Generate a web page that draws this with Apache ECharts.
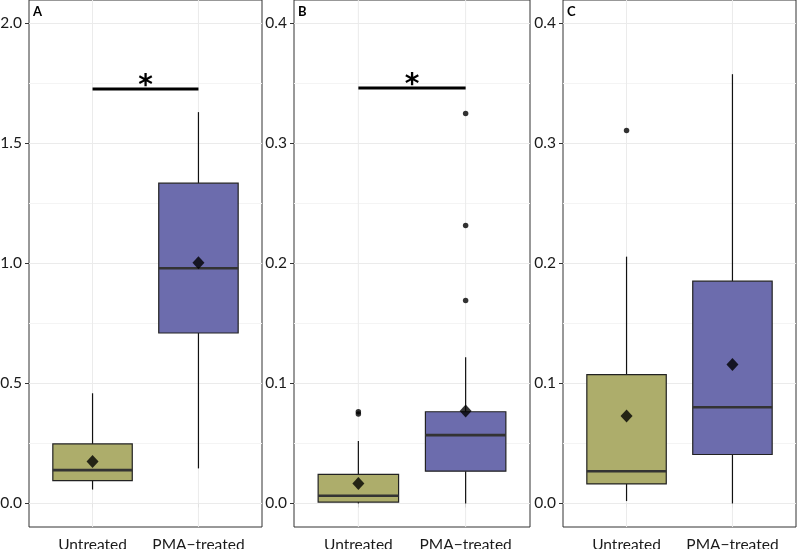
<!DOCTYPE html>
<html>
<head>
<meta charset="utf-8">
<script src="https://cdn.jsdelivr.net/npm/echarts@6/dist/echarts.min.js"></script>
<style>html,body{margin:0;padding:0;background:#fff}#c{width:797px;height:549px}</style>
</head>
<body>
<div id="c"></div>
<script>
// ---- data ----
const categories = ['Untreated', 'PMA−treated'];
const panelLabels = ['A', 'B', 'C'];
const boxColors = ['#ADAD6B', '#6C6CAD'];

// [min whisker, Q1, median, Q3, max whisker]
const boxA = [[0.058, 0.095, 0.139, 0.248, 0.459], [0.146, 0.710, 0.980, 1.334, 1.630]];
const meanA = [0.175, 1.003];
const outA = [];
const sigA = [1, 2, 1.726];

const boxB = [[0.000, 0.0012, 0.0064, 0.0242, 0.052], [0.000, 0.0269, 0.0569, 0.0764, 0.1219]];
const meanB = [0.0166, 0.077];
const outB = [[1, 0.0745], [1, 0.0765], [2, 0.1691], [2, 0.2316], [2, 0.3249]];
const sigB = [1, 2, 0.346];

const boxC = [[0.002, 0.0163, 0.0268, 0.1073, 0.2056], [0.000, 0.0408, 0.0802, 0.1852, 0.3576]];
const meanC = [0.0729, 0.1158];
const outC = [[1, 0.3106]];

const yRangeA = [-0.098, 2.097];
const yRangeBC = [-0.0196, 0.4194];
const yTicksA = [0, 0.5, 1.0, 1.5, 2.0];
const yTicksBC = [0, 0.1, 0.2, 0.3, 0.4];

// ---- layout ----
const panels = [
  {box: boxA, mean: meanA, out: outA, sig: sigA, yr: yRangeA, yt: yTicksA, left: 29, width: 233},
  {box: boxB, mean: meanB, out: outB, sig: sigB, yr: yRangeBC, yt: yTicksBC, left: 294, width: 236},
  {box: boxC, mean: meanC, out: outC, sig: null, yr: yRangeBC, yt: yTicksBC, left: 563, width: 233}
];
const FONT = 'Lato, "Open Sans", sans-serif';
const BOX_W = 0.75;

const grid = [], xAxis = [], yAxis = [], series = [], title = [];
panels.forEach((p, i) => {
  grid.push({left: p.left, width: p.width, top: 0, height: 527, show: true, containLabel: false,
    outerBoundsMode: 'none',
    borderColor: '#333', borderWidth: 1, backgroundColor: 'transparent'});
  xAxis.push({type: 'value', gridIndex: i, min: 0.4, max: 2.6,
    axisLine: {show: false}, splitLine: {show: false},
    axisTick: {show: true, customValues: [1, 2], length: 4, lineStyle: {color: '#333'}},
    axisLabel: {customValues: [1, 2], formatter: v => categories[Math.round(v) - 1] || '',
      fontSize: 15.5, color: '#1a1a1a', fontFamily: FONT, margin: 10, hideOverlap: false}});
  yAxis.push({type: 'value', gridIndex: i, min: p.yr[0], max: p.yr[1],
    axisLine: {show: false},
    axisTick: {show: true, customValues: p.yt, length: 4, lineStyle: {color: '#333'}},
    axisLabel: {customValues: p.yt, formatter: v => v.toFixed(1), fontSize: 15.5, color: '#1a1a1a',
      fontFamily: FONT, margin: 7, hideOverlap: false},
    splitLine: {show: true, lineStyle: {color: '#EBEBEB', width: 1}},
    minorTick: {show: false, splitNumber: 2},
    minorSplitLine: {show: true, lineStyle: {color: '#F4F4F4', width: 1}}});
  title.push({text: panelLabels[i], left: p.left + 4, top: 5, padding: 0,
    textStyle: {fontSize: 13, fontWeight: 'bold', color: '#000', fontFamily: FONT}});

  // vertical grid lines at categories
  series.push({type: 'custom', xAxisIndex: i, yAxisIndex: i, z: 1, silent: true,
    data: categories.map((c, k) => [k + 1]),
    renderItem: (params, api) => {
      const px = api.coord([api.value(0), 0])[0];
      const cs = params.coordSys;
      return {type: 'line', shape: {x1: px, y1: cs.y, x2: px, y2: cs.y + cs.height},
        style: {stroke: '#EBEBEB', lineWidth: 1}};
    }});

  // boxes
  series.push({type: 'custom', xAxisIndex: i, yAxisIndex: i, z: 2, silent: true,
    data: p.box.map((b, k) => [k + 1].concat(b)),
    renderItem: (params, api) => {
      const x = api.value(0);
      const lo = api.coord([x, api.value(1)]);
      const q1 = api.coord([x, api.value(2)]);
      const md = api.coord([x, api.value(3)]);
      const q3 = api.coord([x, api.value(4)]);
      const hi = api.coord([x, api.value(5)]);
      const w = api.size([BOX_W, 0])[0];
      const col = boxColors[Math.round(x) - 1];
      return {type: 'group', children: [
        {type: 'line', shape: {x1: lo[0], y1: lo[1], x2: q1[0], y2: q1[1]}, style: {stroke: '#111', lineWidth: 1.2}},
        {type: 'line', shape: {x1: q3[0], y1: q3[1], x2: hi[0], y2: hi[1]}, style: {stroke: '#111', lineWidth: 1.2}},
        {type: 'rect', shape: {x: q1[0] - w / 2, y: q3[1], width: w, height: q1[1] - q3[1]},
          style: {fill: col, stroke: '#222', lineWidth: 1.2}},
        {type: 'line', shape: {x1: md[0] - w / 2, y1: md[1], x2: md[0] + w / 2, y2: md[1]},
          style: {stroke: '#333', lineWidth: 2.6}}
      ]};
    }});

  // outliers
  series.push({type: 'scatter', xAxisIndex: i, yAxisIndex: i, z: 3, silent: true,
    symbol: 'circle', symbolSize: 5.5, itemStyle: {color: '#000'}, data: p.out});

  // means
  series.push({type: 'scatter', xAxisIndex: i, yAxisIndex: i, z: 4, silent: true,
    symbol: 'diamond', symbolSize: [12, 13], itemStyle: {color: '#000'},
    data: p.mean.map((m, k) => [k + 1, m])});

  // significance bar
  if (p.sig) {
    series.push({type: 'custom', xAxisIndex: i, yAxisIndex: i, z: 4, silent: true,
      data: [p.sig],
      renderItem: (params, api) => {
        const a = api.coord([api.value(0), api.value(2)]);
        const b = api.coord([api.value(1), api.value(2)]);
        return {type: 'group', children: [
          {type: 'line', shape: {x1: a[0], y1: a[1], x2: b[0], y2: b[1]}, style: {stroke: '#000', lineWidth: 3}},
          {type: 'text', style: {text: '*', x: (a[0] + b[0]) / 2, y: a[1] + 12, align: 'center', verticalAlign: 'bottom',
            fontSize: 28, fontWeight: 'bold', fill: '#000', fontFamily: '"DejaVu Sans", sans-serif'}}
        ]};
      }});
  }
});

const chart = echarts.init(document.getElementById('c'), null, {renderer: 'canvas'});
chart.setOption({animation: false, backgroundColor: '#fff', title, grid, xAxis, yAxis, series});
</script>
</body>
</html>
